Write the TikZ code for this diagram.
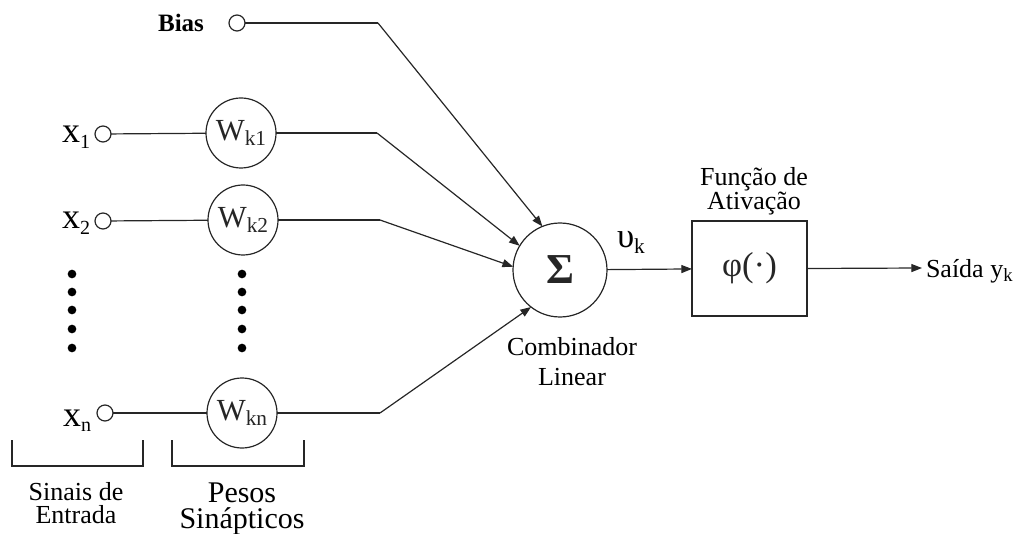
\documentclass[tikz,border=0pt]{standalone}
\usepackage{fontspec}
\setmainfont{Liberation Serif}
\usetikzlibrary{arrows.meta}
\newcommand\fs[1]{\fontsize{#1}{#1}\selectfont}
\newcommand\lowsub[2]{\raisebox{-0.35ex}{\fs{#1}#2}}
\begin{document}
\begin{tikzpicture}[x=0.75pt,y=-0.75pt,
  every node/.style={inner sep=0pt,outer sep=0pt},
  line/.style={line width=0.9pt,black!85},
  arr/.style={line,-{Triangle[length=8pt,width=6pt]}},
  port/.style={circle,draw,line width=0.9pt,black!85,minimum size=12pt},
  wcirc/.style={circle,draw,line width=0.9pt,black!85,minimum size=52.5pt},
  dotmark/.style={circle,fill=black,minimum size=6.5pt},
  lbl/.style={font=\fs{19.5},align=center}]
\useasboundingbox (0,0) rectangle (1016,534);

% bias
\node[anchor=base,font=\bfseries\fs{18.75}] (biaslbl) at (181,32) {Bias};
\node[port] (pb) at (237,23) {};
\coordinate (cb) at (378,23);

% inputs
\node[port] (p1) at (103,134) {};
\node[port] (p2) at (103,221) {};
\node[port] (pn) at (105,413) {};
\node[anchor=base] (x1) at (76,143) {\fs{27}x\lowsub{15}{1}};
\node[anchor=base] (x2) at (76,229) {\fs{27}x\lowsub{15}{2}};
\node[anchor=base] (xn) at (77,426) {\fs{27}x\lowsub{15}{n}};

% weights
\node[wcirc] (w1) at (241,133) {\fs{23}W\lowsub{16}{k1}};
\node[wcirc] (w2) at (243,220) {\fs{23}W\lowsub{16}{k2}};
\node[wcirc] (wn) at (242,413) {\fs{23}W\lowsub{16}{kn}};
\coordinate (c1) at (377,133);
\coordinate (c2) at (380,220);
\coordinate (cn) at (380,413);

% dots
\foreach \yy [count=\i] in {274,292,310,329,348}{
  \node[dotmark] (dl\i) at (72,\yy) {};
  \node[dotmark] (dr\i) at (242,\yy) {};
}

% summation
\node[circle,draw,line width=0.9pt,black!85,minimum size=70.5pt] (sigma) at (560,270) {\bfseries\fs{32}Σ};
\node[lbl,anchor=base] (comb) at (572,385) {Combinador\\[2.5pt]Linear};
\node[anchor=base west] (vk) at (617,248) {\fs{26}υ\lowsub{16}{k}};

% activation
\node[draw,line width=0.9pt,black!85,minimum width=86.25pt,minimum height=71.25pt] (phi) at (749.5,268.5) {\fs{26}φ(·)};
\node[lbl,anchor=base] (func) at (754,210) {Função de\\[-1.5pt]Ativação};
\coordinate (out) at (922,268);
\node[anchor=base west,font=\fs{19.5}] (said) at (926,277) {Saída y\lowsub{14}{k}};

% connectors
\draw[line] (pb) -- (cb);
\draw[arr] (cb) -- (sigma.112);
\draw[line] (p1) -- (w1);
\draw[line] (w1) -- (c1);
\draw[arr] (c1) -- (sigma.149);
\draw[line] (p2) -- (w2);
\draw[line] (w2) -- (c2);
\draw[arr] (c2) -- (sigma.176);
\draw[line] (pn) -- (wn);
\draw[line] (wn) -- (cn);
\draw[arr] (cn) -- (sigma.232);
\draw[arr] (sigma) -- (phi);
\draw[arr] (phi.east) -- (out);

% brackets
\draw[line] (12,440) -- (12,466) -- (143,466) -- (143,440);
\draw[line] (172,440) -- (172,466) -- (304,466) -- (304,440);
\node[lbl,anchor=base] (sinais) at (76,523) {Sinais de\\[-2.25pt]Entrada};
\node[anchor=base,align=center,font=\fs{22.5}] (pesos) at (242,528) {Pesos\\[-3pt]Sinápticos};
\end{tikzpicture}
\end{document}
